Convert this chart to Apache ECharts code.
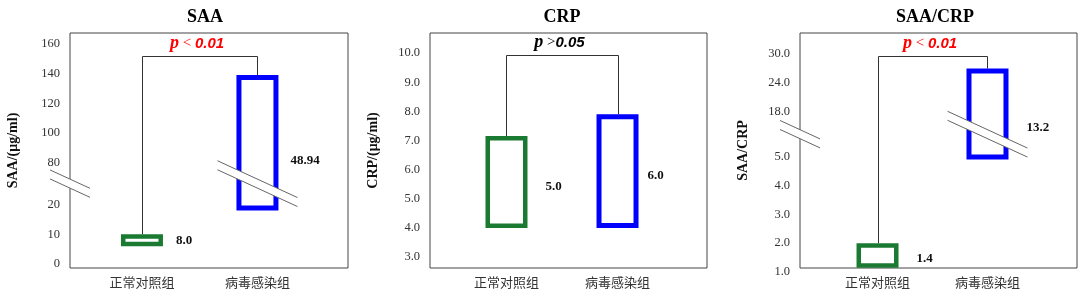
<!DOCTYPE html>
<html><head><meta charset="utf-8">
<script src="https://cdn.jsdelivr.net/npm/echarts@6/dist/echarts.min.js"></script>
<style>html,body{margin:0;padding:0;background:#fff}#c{width:1080px;height:298px}</style>
</head><body><div id="c"></div>
<script>
// ---------------- data ----------------
const categories = ['正常对照组', '病毒感染组'];
const panelTitles = ['SAA', 'CRP', 'SAA/CRP'];
const yAxisNames = ['SAA/(μg/ml)', 'CRP/(μg/ml)', 'SAA/CRP'];

const saaTicks = [0, 10, 20, 80, 100, 120, 140, 160];
const crpTicks = [3, 4, 5, 6, 7, 8, 9, 10];
const ratioTicks = [1, 2, 3, 4, 5, 18, 24, 30];

const saaLow = [6, 18];
const saaHigh = [10, 139];
const saaMeanText = ['8.0', '48.94'];

const crpLow = [4.0, 4.0];
const crpHigh = [7.15, 7.9];
const crpMeanText = ['5.0', '6.0'];

const ratioLow = [1.15, 4.9];
const ratioHigh = [2.0, 27.0];
const ratioMeanText = ['1.4', '13.2'];

const pTexts = ['p < 0.01', 'p >0.05', 'p < 0.01'];

// ---------------- layout / style ----------------
const layout = [
  {grid:{left:70, top:33, width:278, height:235}, xMin:-0.623, xMax:1.784, yMin:-0.135, yMax:7.79,
   breakAfter:2, breakGap:1.42, decimals:0, bracketAt:152, labelAt:[8, 81], labelDx:[13, 12],
   titleX:205, pColor:'#ff0000', ticks:saaTicks, low:saaLow, high:saaHigh, mean:saaMeanText},
  {grid:{left:430, top:33, width:277, height:235}, xMin:-0.689, xMax:1.806, yMin:-0.377, yMax:7.69,
   breakAfter:-1, breakGap:1, decimals:1, bracketAt:9.95, labelAt:[5.4, 5.8], labelDx:[18, 9],
   titleX:562, pColor:'#000000', ticks:crpTicks, low:crpLow, high:crpHigh, mean:crpMeanText},
  {grid:{left:800, top:33, width:277, height:235}, xMin:-0.705, xMax:1.814, yMin:0.139, yMax:8.28,
   breakAfter:4, breakGap:1.55, decimals:1, bracketAt:29.6, labelAt:[1.48, 13.3], labelDx:[18, 18],
   titleX:935, pColor:'#ff0000', ticks:ratioTicks, low:ratioLow, high:ratioHigh, mean:ratioMeanText}
];
const boxColors = ['#1b7a32', '#0000ff'];
const boxLineWidth = [4.5, 5];
const BOXW = 42;
const SERIF = '"Liberation Serif", "Times New Roman", serif';
const SANS = '"Liberation Sans", Arial, sans-serif';
const CJK = '"Noto Sans CJK SC", sans-serif';

function tickPositions(L) {
  return L.ticks.map((t, i) => i + (L.breakAfter >= 0 && i > L.breakAfter ? L.breakGap - 1 : 0));
}
function toPos(v, ticks, pos) {
  let k = 0;
  while (k < ticks.length - 2 && v > ticks[k + 1]) k++;
  return pos[k] + (v - ticks[k]) / (ticks[k + 1] - ticks[k]) * (pos[k + 1] - pos[k]);
}
const cr = v => Math.round(v) + 0.5;

const grids = [], xAxes = [], yAxes = [], series = [], graphics = [];

layout.forEach((L, pi) => {
  const pos = tickPositions(L);
  const P = v => toPos(v, L.ticks, pos);
  // a tick that falls just below the axis minimum is placed at the minimum and nudged down by padding
  const labelVals = pos.map(p => Math.max(p, L.yMin));
  const slotPx = L.grid.height / (L.yMax - L.yMin);
  grids.push(Object.assign({show:true, borderColor:'#444', borderWidth:1, backgroundColor:'transparent'}, L.grid));
  xAxes.push({
    gridIndex: pi, type:'value', min:L.xMin, max:L.xMax,
    axisLine:{show:false}, axisTick:{show:false}, splitLine:{show:false},
    axisLabel:{customValues:[0, 1], formatter: v => categories[Math.round(v)],
      fontFamily:CJK, fontSize:13, color:'#333', margin:8}
  });
  yAxes.push({
    gridIndex: pi, type:'value', min:L.yMin, max:L.yMax,
    axisLine:{show:false}, axisTick:{show:false}, splitLine:{show:false},
    axisLabel:{customValues:labelVals, formatter: v => {
        let best = 0; labelVals.forEach((p, i) => { if (Math.abs(p - v) < Math.abs(labelVals[best] - v)) best = i; });
        const s = L.ticks[best].toFixed(L.decimals);
        return labelVals[best] !== pos[best] ? '{low|' + s + '}' : s;
      }, fontFamily:SERIF, fontSize:12.5, color:'#333', margin:10,
      rich:{low:{fontFamily:SERIF, fontSize:12.5, color:'#333',
        padding:[Math.round(2 * (L.yMin - pos[0]) * slotPx), 0, 0, 0]}}},
    name: yAxisNames[pi], nameLocation:'middle', nameGap:50, nameRotate:90,
    nameTextStyle:{fontFamily:SERIF, fontWeight:'bold', fontSize:14, color:'#111'}
  });

  // boxes
  series.push({
    type:'custom', xAxisIndex:pi, yAxisIndex:pi, z:3, clip:false,
    data: categories.map((c, i) => [i, P(L.low[i]), P(L.high[i]), P(L.labelAt[i])]),
    encode:{x:0, y:[1, 2]},
    renderItem: (params, api) => {
      const i = params.dataIndex;
      const top = api.coord([i, api.value(2)]);
      const bot = api.coord([i, api.value(1)]);
      const lab = api.coord([i, api.value(3)]);
      const lw = boxLineWidth[i];
      return {type:'group', children:[
        {type:'rect', shape:{x: top[0] - BOXW / 2 + lw / 2, y: top[1] + lw / 2, width: BOXW - lw, height: bot[1] - top[1] - lw},
         style:{fill:'#fff', stroke: boxColors[i], lineWidth: lw}},
        {type:'text', x: top[0] + BOXW / 2 + L.labelDx[i], y: lab[1],
         style:{text: L.mean[i], font:'bold 13px ' + SERIF, fill:'#111', align:'left', verticalAlign:'middle'}}
      ]};
    }
  });

  // significance bracket
  series.push({
    type:'custom', xAxisIndex:pi, yAxisIndex:pi, z:2, clip:false,
    data: [[0, P(L.high[0]), 1, P(L.high[1]), P(L.bracketAt)]],
    renderItem: (params, api) => {
      const a = api.coord([api.value(0), api.value(1)]);
      const b = api.coord([api.value(2), api.value(3)]);
      const yb = api.coord([0, api.value(4)])[1];
      const ax = cr(a[0]), bx = cr(b[0]), y = cr(yb);
      const t = pTexts[pi];
      return {type:'group', children:[
        {type:'polyline', shape:{points:[[ax, a[1]], [ax, y], [bx, y], [bx, b[1]]]},
         style:{stroke:'#333', lineWidth:1, fill:null}},
        {type:'text', x:(ax + bx) / 2 - 3, y: y - 13,
         style:{text:'{p|' + t.charAt(0) + '}{r|' + t.slice(1).replace(/[0-9.]+$/, '') + '}{n|' + t.match(/[0-9.]+$/)[0] + '}',
           align:'center', verticalAlign:'middle',
           rich:{
             p:{font:'italic bold 18px ' + SERIF, fill:L.pColor},
             r:{font:'15px ' + SERIF, fill:L.pColor},
             n:{font:'italic bold 15px ' + SANS, fill:L.pColor}
           }}}
      ]};
    }
  });

  // axis breaks
  if (L.breakAfter >= 0) {
    const bp = (pos[L.breakAfter] + pos[L.breakAfter + 1]) / 2;
    series.push({
      type:'custom', xAxisIndex:pi, yAxisIndex:pi, z:5, clip:false,
      data: [[bp]],
      renderItem: (params, api) => {
        const slope = 0.46, sep = 9;
        const mk = (cx, cy, hw) => {
          const y1a = cy - sep / 2 - slope * hw, y1b = cy - sep / 2 + slope * hw;
          return [
            {type:'polygon', shape:{points:[[cx - hw, y1a], [cx + hw, y1b], [cx + hw, y1b + sep], [cx - hw, y1a + sep]]},
             style:{fill:'#fff', stroke:null}},
            {type:'line', shape:{x1:cx - hw, y1:y1a, x2:cx + hw, y2:y1b}, style:{stroke:'#666', lineWidth:1}},
            {type:'line', shape:{x1:cx - hw, y1:y1a + sep, x2:cx + hw, y2:y1b + sep}, style:{stroke:'#666', lineWidth:1}}
          ];
        };
        const v = api.value(0);
        const axisX = L.grid.left;
        const cy = api.coord([0, v])[1];
        let children = mk(axisX, cy, 20);
        categories.forEach((c, i) => {
          if (P(L.low[i]) < v && P(L.high[i]) > v) {
            const bc = api.coord([i, v]);
            children = children.concat(mk(bc[0], cy, 40));
          }
        });
        return {type:'group', children};
      }
    });
  }

  graphics.push({type:'text', x:L.titleX, y:17, z:10,
    style:{text:panelTitles[pi], font:'bold 18px ' + SERIF, fill:'#000', align:'center', verticalAlign:'middle'}});
});

const chart = echarts.init(document.getElementById('c'), null, {renderer:'canvas'});
chart.setOption({
  animation:false,
  backgroundColor:'#fff',
  grid: grids, xAxis: xAxes, yAxis: yAxes, series, graphic: graphics
});
</script></body></html>
